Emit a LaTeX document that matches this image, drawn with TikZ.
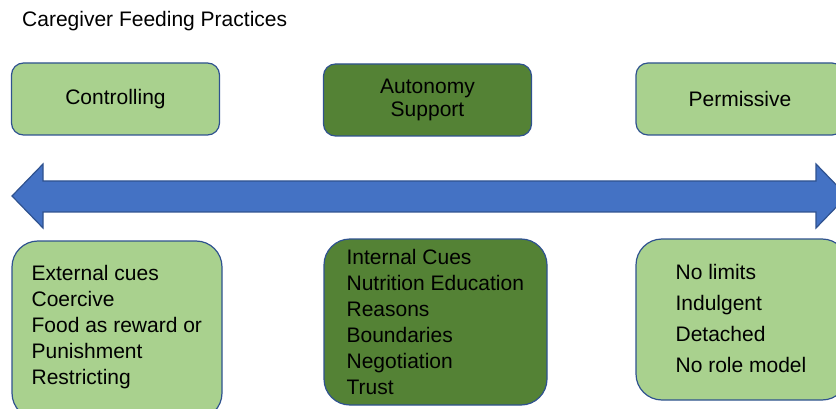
\documentclass[tikz,border=0pt]{standalone}
\usepackage{fontspec}
\setmainfont{Liberation Sans}

\definecolor{paleGreen}{HTML}{A9D18E}
\definecolor{deepGreen}{HTML}{548235}
\definecolor{edgeBlue}{HTML}{2F528F}
\definecolor{barBlue}{HTML}{4472C4}

\begin{document}
\begin{tikzpicture}[x=1pt,y=-1pt,
	topbox/.style={draw=edgeBlue,line width=1.2pt,rounded corners=12pt,minimum width=208pt,minimum height=72pt,inner sep=0,align=center,font=\fontsize{21}{23.5}\selectfont},
	lowbox/.style={draw=edgeBlue,line width=1.2pt,rounded corners=26pt,inner sep=0},
	listtext/.style={anchor=west,inner sep=0,align=left,font=\fontsize{21}{26}\selectfont}]
	\useasboundingbox (0,0) rectangle (836,409);
	\clip (0,0) rectangle (836,409);
	\node[anchor=base west,inner sep=0,font=\fontsize{21}{24}\selectfont] (title) at (22,27) {Caregiver Feeding Practices};
	% upper row
	\node[topbox,fill=paleGreen] (ctrl) at (115.5,99) {Controlling};
	\node[topbox,fill=deepGreen] (auto) at (427.5,100) {Autonomy\\Support};
	\node[topbox,fill=paleGreen] (perm) at (740,99) {Permissive};
	% double arrow
	\draw[draw=edgeBlue,line width=1.2pt,fill=barBlue,line join=miter]
		(12,196) -- (43,164) -- (43,181) -- (816,181) -- (816,164) -- (847,196)
		-- (816,228) -- (816,212) -- (43,212) -- (43,228) -- cycle;
	% lower row
	\node[lowbox,fill=paleGreen,minimum width=210pt,minimum height=178pt] (ctrlbox) at (117,330) {};
	\node[lowbox,fill=deepGreen,minimum width=223pt,minimum height=166pt] (autobox) at (435.5,322) {};
	\node[lowbox,fill=paleGreen,minimum width=212pt,minimum height=161pt] (permbox) at (742,319.5) {};
	\node[listtext] (ctrllist) at ([xshift=20pt,yshift=3pt]ctrlbox.west) {External cues\\Coercive\\Food as reward or\\Punishment\\Restricting};
	\node[listtext] (autolist) at ([xshift=23pt]autobox.west) {Internal Cues\\Nutrition Education\\Reasons\\Boundaries\\Negotiation\\Trust};
	\node[listtext] (permlist) at ([xshift=40pt,yshift=1pt]permbox.west) {No limits\\[5pt]Indulgent\\[5pt]Detached\\[5pt]No role model};
\end{tikzpicture}
\end{document}
